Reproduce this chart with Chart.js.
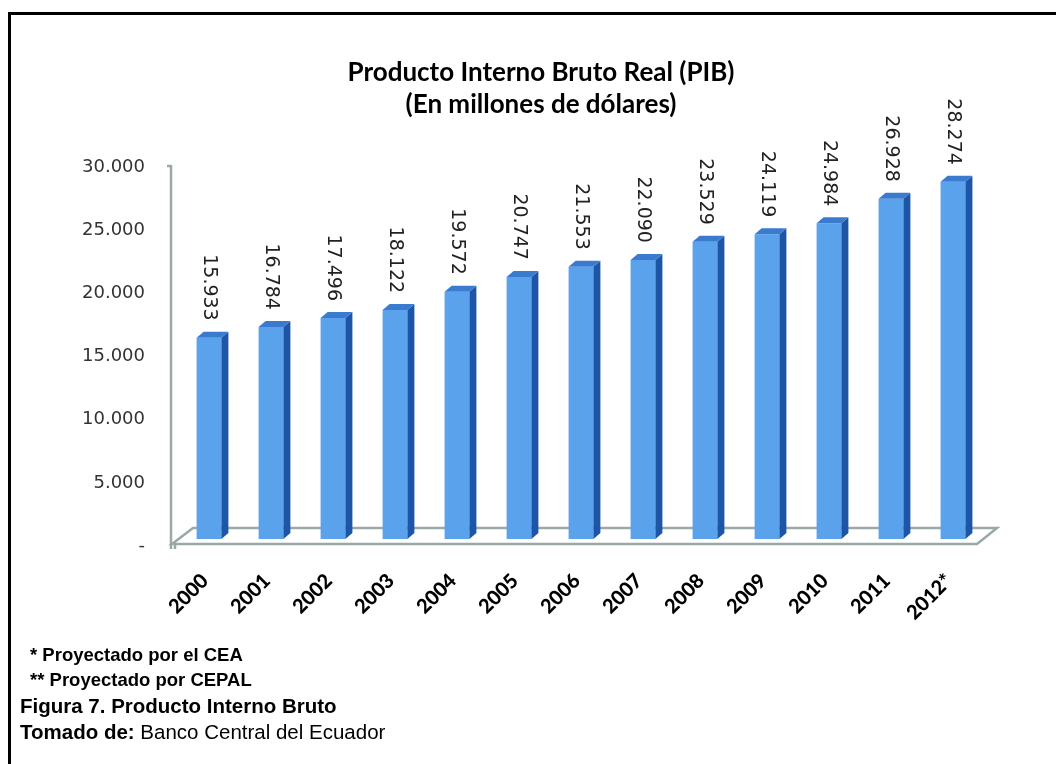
<!DOCTYPE html>
<html>
<head>
<meta charset="utf-8">
<script src="https://cdn.jsdelivr.net/npm/chart.js@4.4.1/dist/chart.umd.min.js"></script>
<style>
  html, body { margin: 0; padding: 0; background: #fff; }
  #wrap { position: relative; width: 1056px; height: 764px; overflow: hidden; }
  #chart { position: absolute; left: 0; top: 0; }
  .frame { position: absolute; background: #000; }
  .title { position: absolute; left: 0; width: 1082px; text-align: center; font: bold 26px Lato, sans-serif; color: #000; white-space: nowrap; line-height: 30px; }
  .note { position: absolute; font-family: "Liberation Sans", Arial, sans-serif; color: #000; white-space: nowrap; }
</style>
</head>
<body>
<div id="wrap">
  <div class="frame" style="left:8px;top:12px;width:1048px;height:3px"></div>
  <div class="frame" style="left:8px;top:12px;width:3px;height:752px"></div>
  <canvas id="chart" width="1056" height="764"></canvas>
  <div class="title" style="top:56px">Producto Interno Bruto Real (PIB)</div>
  <div class="title" style="top:88px">(En millones de dólares)</div>
  <div class="note" style="left:30px;top:644px;font-size:18.5px;font-weight:bold">* Proyectado por el CEA</div>
  <div class="note" style="left:30px;top:669px;font-size:18.5px;font-weight:bold">** Proyectado por CEPAL</div>
  <div class="note" style="left:20px;top:694px;font-size:20.5px;font-weight:bold">Figura 7. Producto Interno Bruto</div>
  <div class="note" style="left:20px;top:720px;font-size:20.5px"><b>Tomado de:</b> Banco Central del Ecuador</div>
</div>
<script>
// ── Data ─────────────────────────────────────────────────────────────────────

const years = ['2000','2001','2002','2003','2004','2005','2006','2007','2008','2009','2010','2011','2012*'];
const pib   = [15933, 16784, 17496, 18122, 19572, 20747, 21553, 22090, 23529, 24119, 24984, 26928, 28274];
const yMax  = 30000;
const yStep = 5000;

// ── Helpers ──────────────────────────────────────────────────────────────────

function fmtNum(v) {
  return String(v).replace(/\B(?=(\d{3})+(?!\d))/g, '.');
}

const FRONT = '#5aa3ec';
const SIDE  = '#1d56a6';
const TOP   = '#3a7bd0';
const AXIS  = '#9aa8a8';
const DX = 7, DY = 6;

// 3D look: side and top faces of the bars, the floor and the axis line
const bar3d = {
  id: 'bar3d',
  beforeDatasetsDraw(chart) {
    const { ctx, chartArea: a } = chart;
    ctx.save();
    ctx.strokeStyle = AXIS;
    ctx.lineWidth = 2.5;
    ctx.beginPath();
    ctx.moveTo(a.left - 6, a.bottom + 5);
    ctx.lineTo(a.right - 7, a.bottom + 5);
    ctx.lineTo(a.right + 13, a.bottom - 11);
    ctx.lineTo(a.left + 15, a.bottom - 11);
    ctx.closePath();
    ctx.stroke();
    // axis
    ctx.beginPath();
    ctx.moveTo(a.left - 7, a.top + 5);
    ctx.lineTo(a.left - 7, a.bottom + 10);
    ctx.moveTo(a.left - 3, a.bottom + 5);
    ctx.lineTo(a.left - 3, a.bottom + 10);
    ctx.moveTo(a.left - 11, a.top + 6);
    ctx.lineTo(a.left - 7, a.top + 6);
    ctx.stroke();
    ctx.restore();
  },
  afterDatasetsDraw(chart) {
    const { ctx } = chart;
    const meta = chart.getDatasetMeta(0);
    ctx.save();
    meta.data.forEach((bar, i) => {
      const { x, y, base, width } = bar.getProps(['x', 'y', 'base', 'width'], true);
      const l = x - width / 2, r = x + width / 2;
      ctx.fillStyle = SIDE;
      ctx.beginPath();
      ctx.moveTo(r, y); ctx.lineTo(r + DX, y - DY); ctx.lineTo(r + DX, base - DY); ctx.lineTo(r, base);
      ctx.closePath(); ctx.fill();
      ctx.fillStyle = TOP;
      ctx.beginPath();
      ctx.moveTo(l, y); ctx.lineTo(l + DX, y - DY); ctx.lineTo(r + DX, y - DY); ctx.lineTo(r, y);
      ctx.closePath(); ctx.fill();

      ctx.save();
      ctx.translate(x, y - 17);
      ctx.rotate(Math.PI / 2);
      ctx.fillStyle = '#222';
      ctx.font = '19px "DejaVu Sans"';
      ctx.textAlign = 'right';
      ctx.textBaseline = 'middle';
      ctx.fillText(fmtNum(pib[i]), 0, 0);
      ctx.restore();
    });
    ctx.restore();
  }
};

// ── Chart ────────────────────────────────────────────────────────────────────

new Chart(document.getElementById('chart').getContext('2d'), {
  type: 'bar',
  data: {
    labels: years,
    datasets: [{ data: pib, backgroundColor: FRONT, borderWidth: 0, categoryPercentage: 1, barPercentage: 0.4 }]
  },
  options: {
    responsive: false,
    animation: false,
    layout: { padding: { left: 0, right: 72, top: 160, bottom: 0 } },
    plugins: { legend: { display: false }, tooltip: { enabled: false }, title: { display: false } },
    scales: {
      x: {
        grid: { display: false, drawTicks: false },
        border: { display: false },
        ticks: { minRotation: 45, maxRotation: 45, padding: 30, labelOffset: -4, color: '#000', font: { family: 'Lato', weight: '900', size: 20 } },
        afterFit: s => { s.height = 225; }
      },
      y: {
        min: 0, max: yMax,
        grid: { display: false, drawTicks: false },
        border: { display: false },
        ticks: { stepSize: yStep, padding: 33, labelOffset: 7, color: '#333', font: { family: 'DejaVu Sans', size: 18 },
                 callback: v => v === 0 ? '-' : fmtNum(v) },
        afterFit: s => { s.width = 178; }
      }
    }
  },
  plugins: [bar3d]
});
</script>
</body>
</html>
